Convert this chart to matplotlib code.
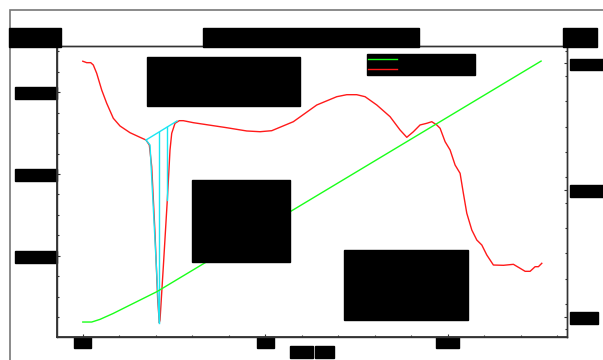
import numpy as np
import matplotlib.pyplot as plt
from matplotlib.patches import Rectangle

# DSC run: heat flow (left axis) and sample temperature (right axis) vs time
time_hf = [0.00, 0.107, 0.217, 0.288, 0.381, 0.518, 0.655, 0.836, 1.020, 1.294,
           1.568, 1.732, 1.823, 1.889, 1.979, 2.053, 2.097, 2.116, 2.207, 2.316,
           2.390, 2.437, 2.527, 2.645, 2.755, 3.029, 3.945, 4.493, 4.858, 5.178,
           5.770, 6.412, 6.960, 7.234, 7.508, 7.736, 8.057, 8.421, 8.695, 8.879,
           9.060, 9.243, 9.427, 9.564, 9.701, 9.792, 9.929, 10.066, 10.203, 10.340,
           10.430, 10.524, 10.661, 10.798, 10.935, 11.072, 11.253, 11.527, 11.801, 11.985,
           12.122, 12.259, 12.396, 12.486, 12.579]
heat_flow = [-1.240, -1.275, -1.275, -1.332, -1.535, -1.944, -2.269, -2.636, -2.825, -2.989,
             -3.102, -3.168, -3.290, -3.821, -5.452, -7.084, -7.640, -7.574, -6.269, -4.637,
             -3.412, -3.004, -2.759, -2.695, -2.695, -2.744, -2.867, -2.947, -2.965, -2.940,
             -2.720, -2.311, -2.108, -2.059, -2.059, -2.108, -2.311, -2.597, -2.923, -3.102,
             -2.965, -2.800, -2.759, -2.720, -2.800, -2.881, -3.209, -3.412, -3.780, -3.983,
             -4.472, -4.962, -5.371, -5.616, -5.738, -5.983, -6.228, -6.235, -6.211, -6.308,
             -6.382, -6.382, -6.269, -6.269, -6.186]

time_temp = [0.0, 0.244, 0.471, 0.828, 1.203, 2.026, 12.56]
temperature = [45.8, 45.8, 47.9, 52.5, 57.9, 69.7, 251.8]

# peak integration
base_t = [1.732, 2.582]
base_v = [-3.168, -2.703]
edge_t = [1.732, 1.842, 2.097]
edge_v = [-3.168, -3.290, -7.640]
hatch_t = [2.097, 2.316]

x_ticks = [0, 5, 10]
x_labels = ["0.0", "5.0", "10.0"]
hf_ticks = [-6, -4, -2]
hf_labels = ["−6.0000", "−4.0000", "−2.0000"]
temp_ticks = [50, 150, 250]
temp_labels = ["50.00", "150.00", "250.00"]

W, H = 603, 360
def fx(px):
    return px / W
def fy(py):
    return 1 - py / H

BOX = dict(boxstyle="square,pad=0.15", fc="black", ec="black")

fig = plt.figure(figsize=(6.03, 3.6), dpi=100)
fig.patches.append(Rectangle((fx(10), -0.2), 2, fy(10) + 0.2, transform=fig.transFigure,
                             fill=False, ec="#777777", lw=1.2))

ax = fig.add_axes([fx(57), fy(336.6), fx(567) - fx(57), fy(46) - fy(336.6)])
ax2 = ax.twinx()

l_hf, = ax.plot(time_hf, heat_flow, color="#ff1a1a", lw=1.0, label="Heat Flow  mW")
l_t, = ax2.plot(time_temp, temperature, color="#1aff1a", lw=1.0, label="Temperature  °C")

cyan = "#1ae6f2"
ax.plot(base_t, base_v, color=cyan, lw=1.0)
ax.plot(edge_t, edge_v, color=cyan, lw=1.0)
for t in hatch_t:
    ax.plot([t, t], [np.interp(t, base_t, base_v), np.interp(t, time_hf, heat_flow)],
            color=cyan, lw=1.0)

ax.set_xlim(-0.707, 13.27)
ax.set_ylim(-7.98, -0.867)
ax2.set_ylim(34.3, 263.7)

ax.set_xticks(x_ticks, x_labels)
ax.set_xticks(np.arange(0, 14, 1), minor=True)
ax.set_yticks(hf_ticks, hf_labels)
ax.set_yticks(np.arange(-7.5, -0.9, 0.5), minor=True)
ax2.set_yticks(temp_ticks, temp_labels)
ax2.set_yticks(np.arange(40, 261, 20), minor=True)

for a in (ax, ax2):
    a.tick_params(which="both", direction="in", labelsize=6.5, color="#333333")
    a.tick_params(which="major", length=2.2, width=0.8)
    a.tick_params(which="minor", length=1.3, width=0.8)
    for s in a.spines.values():
        s.set_color("#333333")
        s.set_linewidth(1.0)
ax.spines["left"].set_linewidth(1.3)
ax.spines["bottom"].set_linewidth(1.3)
ax.tick_params(axis="y", pad=1.2)
ax.tick_params(axis="x", pad=1.0)
ax2.tick_params(axis="y", pad=3.0)

for lbl in ax.get_xticklabels() + ax.get_yticklabels() + ax2.get_yticklabels():
    lbl.set_bbox(BOX)

leg = ax2.legend([l_t, l_hf], [l_t.get_label(), l_hf.get_label()], loc="upper left",
                 bbox_to_anchor=(0.608, 0.9725), borderaxespad=0, fontsize=6.5,
                 handlelength=3.2, handletextpad=0.4, labelspacing=0.1, borderpad=0.1,
                 facecolor="black", edgecolor="black", framealpha=1, fancybox=False)

# headers
fig.text(fx(311), fy(37.5), "DSC  Sample A1  20 K/min  N2", ha="center", va="center",
         fontsize=10, bbox=BOX)
fig.text(fx(11), fy(37.5), "Wg^-1", ha="left", va="center", fontsize=10, bbox=BOX)
fig.text(fx(565), fy(37.5), "T °C", ha="left", va="center", fontsize=10, bbox=BOX)
fig.text(fx(301), fy(352), "Time", ha="center", va="center", fontsize=6, bbox=BOX)
fig.text(fx(324.5), fy(352), "min", ha="center", va="center", fontsize=6, bbox=BOX)

# evaluation results
fig.text(fx(148), fy(58),
         "Glass Transition\nOnset             62.40 °C\nMidpoint          65.13 °C\nDelta cp         0.214 Jg^-1K^-1",
         ha="left", va="top", fontsize=7, linespacing=1.27, bbox=BOX)
fig.text(fx(193), fy(181),
         "Integral -185.21 mJ\n norm. -37.04 Jg^-1\nOnset    78.52 °C\nPeak     80.35 °C\nEndset   82.10 °C\nHeight  4.512 mW\nWidth    1.20 °C",
         ha="left", va="top", fontsize=7, bbox=BOX)
fig.text(fx(345), fy(251),
         "Step              -3.41 mW\nOnset             196.84 °C\nInflect. Pt.      205.12 °C\nEndset            214.66 °C\nMidpoint          204.90 °C\nDecomposition",
         ha="left", va="top", fontsize=7, bbox=BOX)

fig.savefig("out.png", dpi=100)
